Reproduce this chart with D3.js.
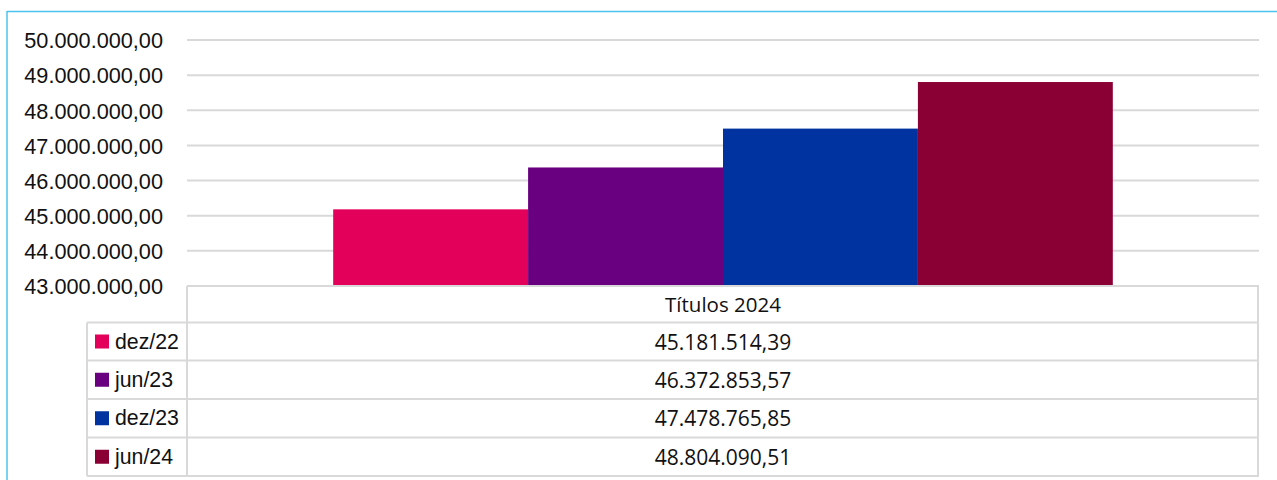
<!DOCTYPE html>
<html>
<head>
<meta charset="utf-8">
<script src="https://cdn.jsdelivr.net/npm/d3@7"></script>
<style>
  html, body { margin: 0; padding: 0; background: #fff; }
  svg { display: block; }
</style>
</head>
<body>
<svg id="chart" width="1277" height="480"></svg>
<script>
// Chart data
const categories = ["Títulos 2024"];
const seriesNames = ["dez/22", "jun/23", "dez/23", "jun/24"];
const seriesValues = [45181514.39, 46372853.57, 47478765.85, 48804090.51];
const seriesColors = ["#E3005A", "#69007F", "#0033A0", "#8A0034"];
const yTicks = [43000000, 44000000, 45000000, 46000000, 47000000, 48000000, 49000000, 50000000];

const ptBR = d3.formatLocale({ decimal: ",", thousands: ".", grouping: [3], currency: ["R$", ""] });
const fmt = ptBR.format(",.2f");

const svg = d3.select("#chart");

// Plot area and table geometry
const plotLeft = 187, plotRight = 1259;
const plotTop = 40, plotBottom = 286;
const legendLeft = 87;
const rowEdges = [286, 322.5, 360.5, 399, 437.5, 476];
const gridColor = "#D9D9D9";

// Outer frame (top and left edges)
svg.append("line").attr("x1", 7).attr("x2", 1277).attr("y1", 11.5).attr("y2", 11.5)
  .attr("stroke", "#4CC3EE").attr("stroke-width", 1.5);
svg.append("line").attr("x1", 7).attr("x2", 7).attr("y1", 11).attr("y2", 480)
  .attr("stroke", "#4CC3EE").attr("stroke-width", 1.5);

// Scales
const y = d3.scaleLinear().domain([43000000, 50000000]).range([plotBottom, plotTop]);
const x0 = d3.scaleBand().domain(categories).range([plotLeft, plotRight]).padding(0);
const x1 = d3.scaleBand().domain(seriesNames).range([0, x0.bandwidth()])
  .paddingInner(0).paddingOuter(0.75);

// Gridlines
svg.append("g").selectAll("line").data(yTicks.filter(t => t > 43000000)).join("line")
  .attr("x1", plotLeft).attr("x2", plotRight)
  .attr("y1", d => y(d)).attr("y2", d => y(d))
  .attr("stroke", gridColor).attr("stroke-width", 2);

// Y axis labels
const yAxis = d3.axisLeft(y).tickValues(yTicks).tickFormat(fmt).tickSize(0).tickPadding(0);
const gy = svg.append("g").attr("transform", "translate(163,0)").call(yAxis);
gy.select(".domain").remove();
gy.selectAll("text")
  .attr("font-family", "Liberation Sans, Arial, sans-serif")
  .attr("font-size", 21.7)
  .attr("fill", "#111")
  .attr("dy", "0.36em");

// Bars
const groups = svg.append("g").selectAll("g").data(categories).join("g")
  .attr("transform", d => `translate(${x0(d)},0)`);
groups.selectAll("rect")
  .data(() => seriesNames.map((s, i) => ({ s, v: seriesValues[i], c: seriesColors[i] })))
  .join("rect")
  .attr("x", d => x1(d.s))
  .attr("width", x1.bandwidth())
  .attr("y", d => y(d.v))
  .attr("height", d => y(43000000) - y(d.v))
  .attr("fill", d => d.c);

// Data table
const table = svg.append("g").attr("stroke", gridColor).attr("stroke-width", 2).attr("fill", "none");
// header cell of the data column
table.append("line").attr("x1", plotLeft).attr("x2", plotRight).attr("y1", rowEdges[0]).attr("y2", rowEdges[0]);
// horizontal row lines
rowEdges.slice(1).forEach(yy => {
  table.append("line").attr("x1", legendLeft).attr("x2", plotRight).attr("y1", yy).attr("y2", yy);
});
// vertical lines
table.append("line").attr("x1", plotLeft).attr("x2", plotLeft).attr("y1", rowEdges[0]).attr("y2", rowEdges[5]);
table.append("line").attr("x1", plotRight - 1).attr("x2", plotRight - 1).attr("y1", rowEdges[0]).attr("y2", rowEdges[5]);
table.append("line").attr("x1", legendLeft).attr("x2", legendLeft).attr("y1", rowEdges[1]).attr("y2", rowEdges[5]);

const tableFont = "Open Sans, Noto Sans, sans-serif";
// header text
svg.append("text")
  .attr("x", (plotLeft + plotRight) / 2).attr("y", (rowEdges[0] + rowEdges[1]) / 2)
  .attr("text-anchor", "middle").attr("dominant-baseline", "central")
  .attr("font-family", tableFont).attr("font-size", 20.5).attr("fill", "#111")
  .text(categories[0]);

// rows: legend swatch, series name, value
seriesNames.forEach((s, i) => {
  const cy = (rowEdges[i + 1] + rowEdges[i + 2]) / 2;
  svg.append("rect").attr("x", 95).attr("y", cy - 7).attr("width", 14).attr("height", 14)
    .attr("fill", seriesColors[i]);
  svg.append("text").attr("x", 115).attr("y", cy)
    .attr("dominant-baseline", "central")
    .attr("font-family", "Liberation Sans, Arial, sans-serif").attr("font-size", 21.3).attr("fill", "#111")
    .text(s);
  svg.append("text").attr("x", (plotLeft + plotRight) / 2).attr("y", cy)
    .attr("text-anchor", "middle").attr("dominant-baseline", "central")
    .attr("font-family", tableFont).attr("font-size", 21).attr("fill", "#111")
    .text(fmt(seriesValues[i]));
});
</script>
</body>
</html>
